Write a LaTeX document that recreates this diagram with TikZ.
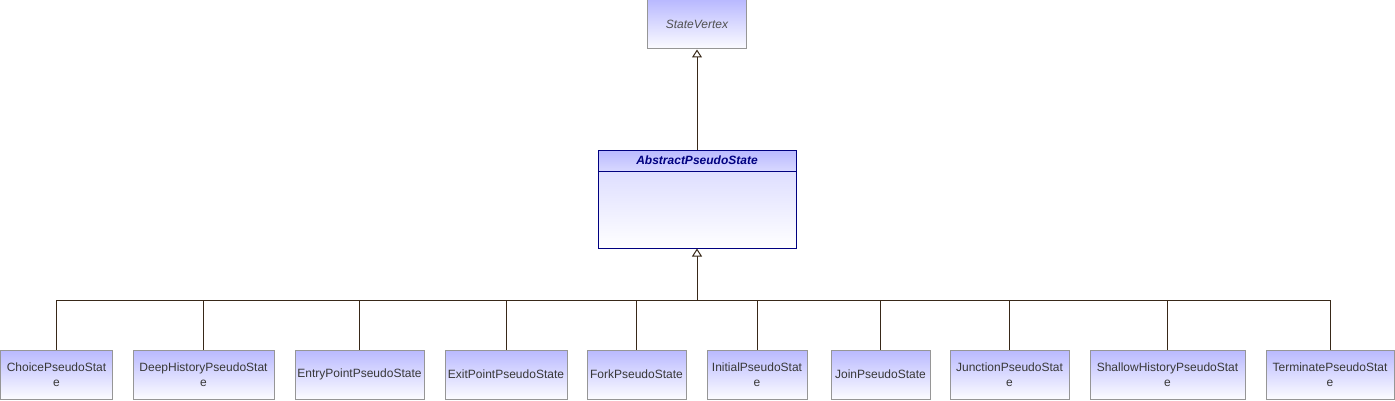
\documentclass[tikz,border=0pt]{standalone}
\usepackage{fontspec}
\setmainfont{Liberation Sans}
\usetikzlibrary{arrows.meta}
\definecolor{boxtop}{RGB}{185,185,255}
\definecolor{boxbot}{RGB}{252,252,255}
\definecolor{boxline}{RGB}{150,150,150}
\definecolor{navy}{RGB}{0,0,128}
\definecolor{conncol}{RGB}{56,40,24}
\definecolor{txtgray}{RGB}{56,56,56}
\definecolor{svtext}{RGB}{80,80,80}
\begin{document}
\begin{tikzpicture}[x=1pt,y=1pt,
  cls/.style={rectangle, draw=boxline, line width=1pt, top color=boxtop, bottom color=boxbot,
    minimum height=49pt, inner sep=0pt, align=center, text=txtgray,
    font=\fontsize{12}{15}\selectfont},
  conn/.style={draw=conncol, line width=1pt},
  gen/.style={conn, -{Triangle[open, length=8pt, width=10pt, fill=white]}}]
\useasboundingbox (0,0) rectangle (1395,400);
% StateVertex
\node[cls, minimum width=99pt, text=svtext, font=\fontsize{12}{15}\selectfont\itshape] (sv) at (697,375.5) {StateVertex};
% AbstractPseudoState
\node[rectangle, draw=navy, line width=1pt, top color=boxtop!60!white, bottom color=white,
  minimum width=198pt, minimum height=98pt, inner sep=0pt] (aps) at (697,201) {};
\node[rectangle, draw=navy, line width=1pt, top color=boxtop, bottom color=boxtop!55!white,
  minimum width=198pt, minimum height=21pt, inner sep=0pt, anchor=north, text=navy,
  font=\fontsize{12}{15}\selectfont\bfseries\itshape] (apsh) at (aps.north) {AbstractPseudoState};
% children
\node[cls, minimum width=112pt] (c1) at (56.5,25.5) {ChoicePseudoStat\\e};
\node[cls, minimum width=141pt] (c2) at (203.5,25.5) {DeepHistoryPseudoStat\\e};
\node[cls, minimum width=129pt] (c3) at (359.5,25.5) {EntryPointPseudoState};
\node[cls, minimum width=122pt] (c4) at (506,25.5) {ExitPointPseudoState};
\node[cls, minimum width=99pt] (c5) at (636.5,25.5) {ForkPseudoState};
\node[cls, minimum width=100pt] (c6) at (757,25.5) {InitialPseudoStat\\e};
\node[cls, minimum width=99pt] (c7) at (880.5,25.5) {JoinPseudoState};
\node[cls, minimum width=119pt] (c8) at (1009.5,25.5) {JunctionPseudoStat\\e};
\node[cls, minimum width=155pt] (c9) at (1167.5,25.5) {ShallowHistoryPseudoStat\\e};
\node[cls, minimum width=128pt] (c10) at (1330,25.5) {TerminatePseudoStat\\e};
% connectors
\draw[gen] (apsh.north) -- (apsh.north |- sv.south);
\coordinate (bus) at (697,100);
\draw[gen] (bus) -- (aps.south);
\foreach \c in {c1,c2,c3,c4,c5,c6,c7,c8,c9,c10}{
  \draw[conn] (\c.north) |- (bus);
}
\end{tikzpicture}
\end{document}
